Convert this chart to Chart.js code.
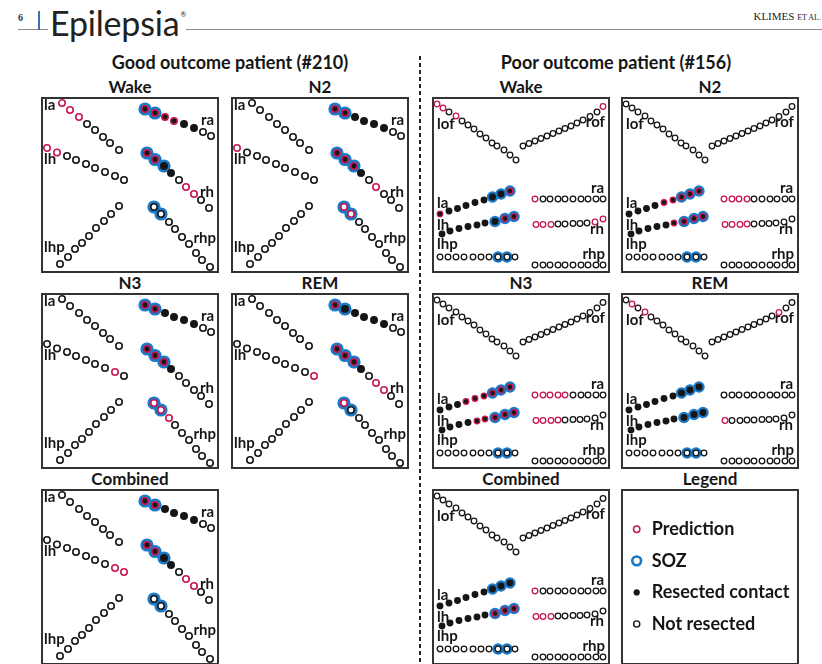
<!DOCTYPE html>
<html>
<head>
<meta charset="utf-8">
<script src="https://cdn.jsdelivr.net/npm/chart.js@4.4.1/dist/chart.umd.min.js"></script>
<style>
  body { margin: 0; width: 822px; height: 664px; overflow: hidden; background: #fff; position: relative; font-family: Lato, "Open Sans", sans-serif; color: #161616; }
  .panel { position: absolute; width: 178px; height: 176px; border: 2px solid #333; box-sizing: border-box; }
  .panel canvas { display: block; }
  .title { position: absolute; width: 178px; text-align: center; font-weight: bold; font-size: 17px; line-height: 1; }
  .group { position: absolute; width: 380px; text-align: center; font-weight: bold; font-size: 18px; line-height: 1; }
  #rule { position: absolute; left: 18px; top: 29px; width: 804px; height: 1px; background: #8a8a8a; }
  #bar { position: absolute; left: 38px; top: 11px; width: 2px; height: 19px; background: #3f6fb5; }
  #page { position: absolute; left: 18px; top: 12px; font: bold 10px "Liberation Serif", serif; color: #1d2f55; }
  #journal { position: absolute; left: 48px; top: 6px; font-size: 34px; line-height: 1; letter-spacing: -0.2px; background: #fff; padding: 0 1px 0 2px; color: #222; }
  #journal sup { font-size: 7px; vertical-align: 0; position: relative; top: -19px; left: 1px; }
  #authors { position: absolute; right: 1px; top: 10px; font: 11px "Liberation Serif", serif; color: #222; }
  #authors small { font-size: 8px; }
  #divider { position: absolute; left: 419px; top: 56px; width: 1.6px; height: 608px;
    background: repeating-linear-gradient(to bottom, #222 0 4px, transparent 4px 7px); }
</style>
</head>
<body>
<div id="rule"></div>
<div id="bar"></div>
<div id="page">6</div>
<div id="journal">Epilepsia<sup>®</sup></div>
<div id="authors">KLIMES <small>ET AL.</small></div>
<div id="divider"></div>
<div class="group" style="left:40px;top:53px">Good outcome patient (#210)</div>
<div class="group" style="left:426px;top:53px">Poor outcome patient (#156)</div>

<script>
// sleep states shown for each patient, in panel order
const states = ['Wake', 'N2', 'N3', 'REM', 'Combined'];

// ---- Good outcome patient (#210) ----
const goodElectrodes = ['la', 'lh', 'lhp', 'ra', 'rh', 'rhp'];
// contact positions (px from the box corner)
const goodX = {
  la:  [21, 29, 38, 46, 54, 62, 69, 78],
  lh:  [6, 16, 26, 35, 45, 54, 64, 74, 83],
  lhp: [19, 27, 34, 41, 48, 55, 63, 70, 78],
  ra:  [104, 114, 124, 133, 143, 153, 162, 170],
  rh:  [106, 114, 123, 130, 138, 145, 153, 160, 168],
  rhp: [113, 120, 128, 134, 141, 148, 155, 161, 169]
};
const goodY = {
  la:  [6, 13, 20, 27, 33, 40, 46, 53],
  lh:  [51, 55.5, 59, 63, 67, 71, 75, 79, 83],
  lhp: [167, 160, 152, 146, 139, 131, 124, 117, 109],
  ra:  [12, 16, 20, 24, 27, 31, 35, 39],
  rh:  [56, 62.5, 69, 76, 83, 90, 97, 103, 111],
  rhp: [110, 117, 125, 132, 140, 147, 156, 163, 170]
};
// contact numbers (1-based)
const goodResected = { ra: [1, 2, 3, 4, 5, 6], rh: [1, 2, 3, 4] };
const goodSOZ = { ra: [1, 2], rh: [1, 2, 3], rhp: [1, 2] };
const goodPrediction = {
  Wake:     { la: [1, 2, 3], lh: [1, 2], ra: [1, 2, 3, 4], rh: [1, 2, 6, 7] },
  N2:       { lh: [1], ra: [1, 2], rh: [1, 2, 3, 6], rhp: [1, 2] },
  N3:       { lh: [8], ra: [1, 2], rh: [1, 2, 3], rhp: [1, 2, 3] },
  REM:      { lh: [9], ra: [1], rh: [1, 2, 3, 6, 7], rhp: [1] },
  Combined: { lh: [8, 9], ra: [1, 2], rh: [1, 2, 6, 7] }
};

// ---- Poor outcome patient (#156) ----
const poorElectrodes = ['lof', 'rof', 'la', 'lh', 'lhp', 'ra', 'rh', 'rhp'];
const poorX = {
  lof: [5, 11, 17, 24, 30, 36, 42, 48, 54, 60, 65, 72, 78, 84],
  rof: [91, 97, 103, 109, 115, 121, 127, 133, 139, 145, 151, 158, 165, 171],
  la:  [8, 17, 25.5, 34, 43, 52, 60.5, 69, 78],
  lh:  [10, 18, 27, 36, 45, 53, 63, 73, 82],
  lhp: [8, 16, 24, 32, 41, 49, 57, 66, 75, 83],
  ra:  [103, 111, 118, 126, 133, 141, 149, 156, 164, 171],
  rh:  [104, 111, 119, 126, 133, 141, 148, 155, 163, 171],
  rhp: [103, 111, 118, 126, 133, 141, 149, 156, 164, 171]
};
const poorY = {
  lof: [7, 11, 15, 19, 24, 28, 32, 37, 41, 46, 49, 53, 58, 63],
  rof: [49, 46.5, 44, 41.5, 39, 36.5, 34, 31.5, 29, 26, 23, 19.5, 15, 9.5],
  la:  [117, 114, 111.5, 108.5, 105.5, 103, 100, 97, 94],
  lh:  [137, 134, 131.5, 129.5, 128, 126, 124.5, 121.5, 119.5],
  lhp: [160, 160, 160, 160, 160, 160, 160, 160, 160, 160],
  ra:  [102, 102, 102, 102, 102, 102, 102, 102, 102, 102],
  rh:  [127.5, 127.5, 127.5, 127, 127, 126.5, 126.5, 126, 125, 122],
  rhp: [168, 168, 168, 168, 168, 168, 168, 168, 168, 168]
};
const poorResected = { la: [1, 2, 3, 4, 5, 6, 7, 8, 9], lh: [1, 2, 3, 4, 5, 6, 7, 8, 9] };
const poorSOZ = { la: [7, 8, 9], lh: [7, 8, 9], lhp: [8, 9] };
const poorPrediction = {
  Wake:     { lof: [1, 2, 4], rof: [14], la: [1, 9], lh: [8, 9], ra: [1], rh: [1, 2, 3, 9, 10] },
  N2:       { la: [5, 6, 7, 8, 9], lh: [6, 7, 8, 9], ra: [1, 2, 3, 4], rh: [1, 2, 3, 4] },
  N3:       { la: [4, 5, 6, 7, 8, 9], lh: [5, 6, 7, 8, 9], ra: [1, 2, 3, 4, 5], rh: [1, 2, 3, 4] },
  REM:      { lof: [2, 4], rof: [12], rh: [1] },
  Combined: { lh: [7, 8, 9], ra: [1], rh: [1, 2, 3] }
};

const legendLabels = ['Prediction', 'SOZ', 'Resected contact', 'Not resected'];

// ---- layout / styling ----
const FONT = 'Lato, "Open Sans", sans-serif';
const INK = '#161616', RED = '#c8174f', BLUE = '#1b79c6';

const goodSlots = [[41, 97], [231, 97], [41, 293], [231, 293], [41, 489]];
const poorSlots = [[432, 97], [621, 97], [432, 293], [621, 293], [432, 489]];
const legendSlot = [621, 489];

const goodLabels = [
  { text: 'la', x: 3, y: 13, align: 'left' },
  { text: 'lh', x: 3, y: 67, align: 'left' },
  { text: 'lhp', x: 3, y: 155, align: 'left' },
  { text: 'ra', x: 173, y: 28, align: 'right' },
  { text: 'rh', x: 173, y: 100, align: 'right' },
  { text: 'rhp', x: 175, y: 146, align: 'right' }
];
const poorLabels = [
  { text: 'lof', x: 5, y: 32, align: 'left' },
  { text: 'rof', x: 173, y: 30, align: 'right' },
  { text: 'ra', x: 172, y: 96, align: 'right' },
  { text: 'la', x: 5, y: 111, align: 'left' },
  { text: 'lh', x: 5, y: 133, align: 'left' },
  { text: 'rh', x: 172, y: 137, align: 'right' },
  { text: 'lhp', x: 5, y: 152, align: 'left' },
  { text: 'rhp', x: 173, y: 161.5, align: 'right' }
];

const textLabels = {
  id: 'textLabels',
  beforeDatasetsDraw(chart, args, opts) {
    const ctx = chart.ctx, sx = chart.scales.x, sy = chart.scales.y;
    ctx.save();
    ctx.font = opts.font;
    ctx.fillStyle = INK;
    ctx.textBaseline = 'alphabetic';
    opts.items.forEach(l => {
      ctx.textAlign = l.align;
      ctx.fillText(l.text, sx.getPixelForValue(l.x) + (l.dx || 0), sy.getPixelForValue(l.y) + (l.dy || 0));
    });
    ctx.restore();
  }
};

function has(list, n) {
  return !!list && list.includes(n);
}

function makeBox(slot, title) {
  const box = document.createElement('div');
  box.className = 'panel';
  box.style.left = slot[0] + 'px';
  box.style.top = slot[1] + 'px';
  const canvas = document.createElement('canvas');
  box.appendChild(canvas);
  document.body.appendChild(box);

  const t = document.createElement('div');
  t.className = 'title';
  t.textContent = title;
  t.style.left = slot[0] + 'px';
  t.style.top = (slot[1] - 19) + 'px';
  document.body.appendChild(t);
  return canvas;
}

function baseOptions(labels, xRange, yRange) {
  return {
    responsive: true,
    maintainAspectRatio: false,
    animation: false,
    events: [],
    layout: { padding: 0, autoPadding: false },
    scales: {
      x: { type: 'linear', min: xRange[0], max: xRange[1], display: false },
      y: { type: 'linear', min: yRange[0], max: yRange[1], reverse: true, display: false }
    },
    plugins: {
      legend: { display: false },
      tooltip: { enabled: false },
      textLabels: labels
    }
  };
}

function electrodePanel(slot, title, names, xs, ys, resected, soz, pred, labels, look) {
  const canvas = makeBox(slot, title);
  const contacts = [], halos = [];
  names.forEach(name => {
    xs[name].forEach((x, i) => {
      const n = i + 1, y = ys[name][i];
      contacts.push({ x, y, cut: has(resected[name], n), hit: has(pred[name], n) });
      if (has(soz[name], n)) halos.push({ x, y });
    });
  });
  new Chart(canvas, {
    type: 'scatter',
    data: {
      datasets: [
        {
          data: contacts,
          clip: false,
          pointRadius: look.r,
          pointBorderWidth: look.bw,
          pointBackgroundColor: c => c.raw && c.raw.cut ? INK : '#fff',
          pointBorderColor: c => c.raw && c.raw.hit ? RED : INK
        },
        {
          data: halos,
          clip: false,
          pointRadius: look.halo,
          pointBorderWidth: 0,
          pointBackgroundColor: BLUE
        }
      ]
    },
    plugins: [textLabels],
    options: baseOptions({ items: labels, font: 'bold 15px ' + FONT }, [2, 176], [2, 174])
  });
}

states.forEach((s, i) => {
  electrodePanel(goodSlots[i], s, goodElectrodes, goodX, goodY, goodResected, goodSOZ,
    goodPrediction[s], goodLabels, { r: 3.2, bw: 1.6, halo: 6.6 });
  electrodePanel(poorSlots[i], s, poorElectrodes, poorX, poorY, poorResected, poorSOZ,
    poorPrediction[s], poorLabels, { r: 2.8, bw: 1.3, halo: 5.7 });
});

// legend panel
(function () {
  const canvas = makeBox(legendSlot, 'Legend');
  const pts = legendLabels.map((_, i) => ({ x: 0, y: i }));
  const items = legendLabels.map((text, i) => ({ text, x: 0, y: i, dx: 15, dy: 6, align: 'left' }));
  new Chart(canvas, {
    type: 'scatter',
    data: {
      datasets: [{
        data: pts,
        clip: false,
        pointRadius: [3.2, 4.4, 3.1, 3.1],
        pointBorderWidth: [1.5, 2.6, 0, 1.4],
        pointBorderColor: [RED, BLUE, INK, INK],
        pointBackgroundColor: ['#fff', '#fff', INK, '#fff']
      }]
    },
    plugins: [textLabels],
    options: baseOptions({ items, font: 'bold 18px ' + FONT }, [-13.7, 160.3], [-1.213, 4.235])
  });
})();
</script>
</body>
</html>
